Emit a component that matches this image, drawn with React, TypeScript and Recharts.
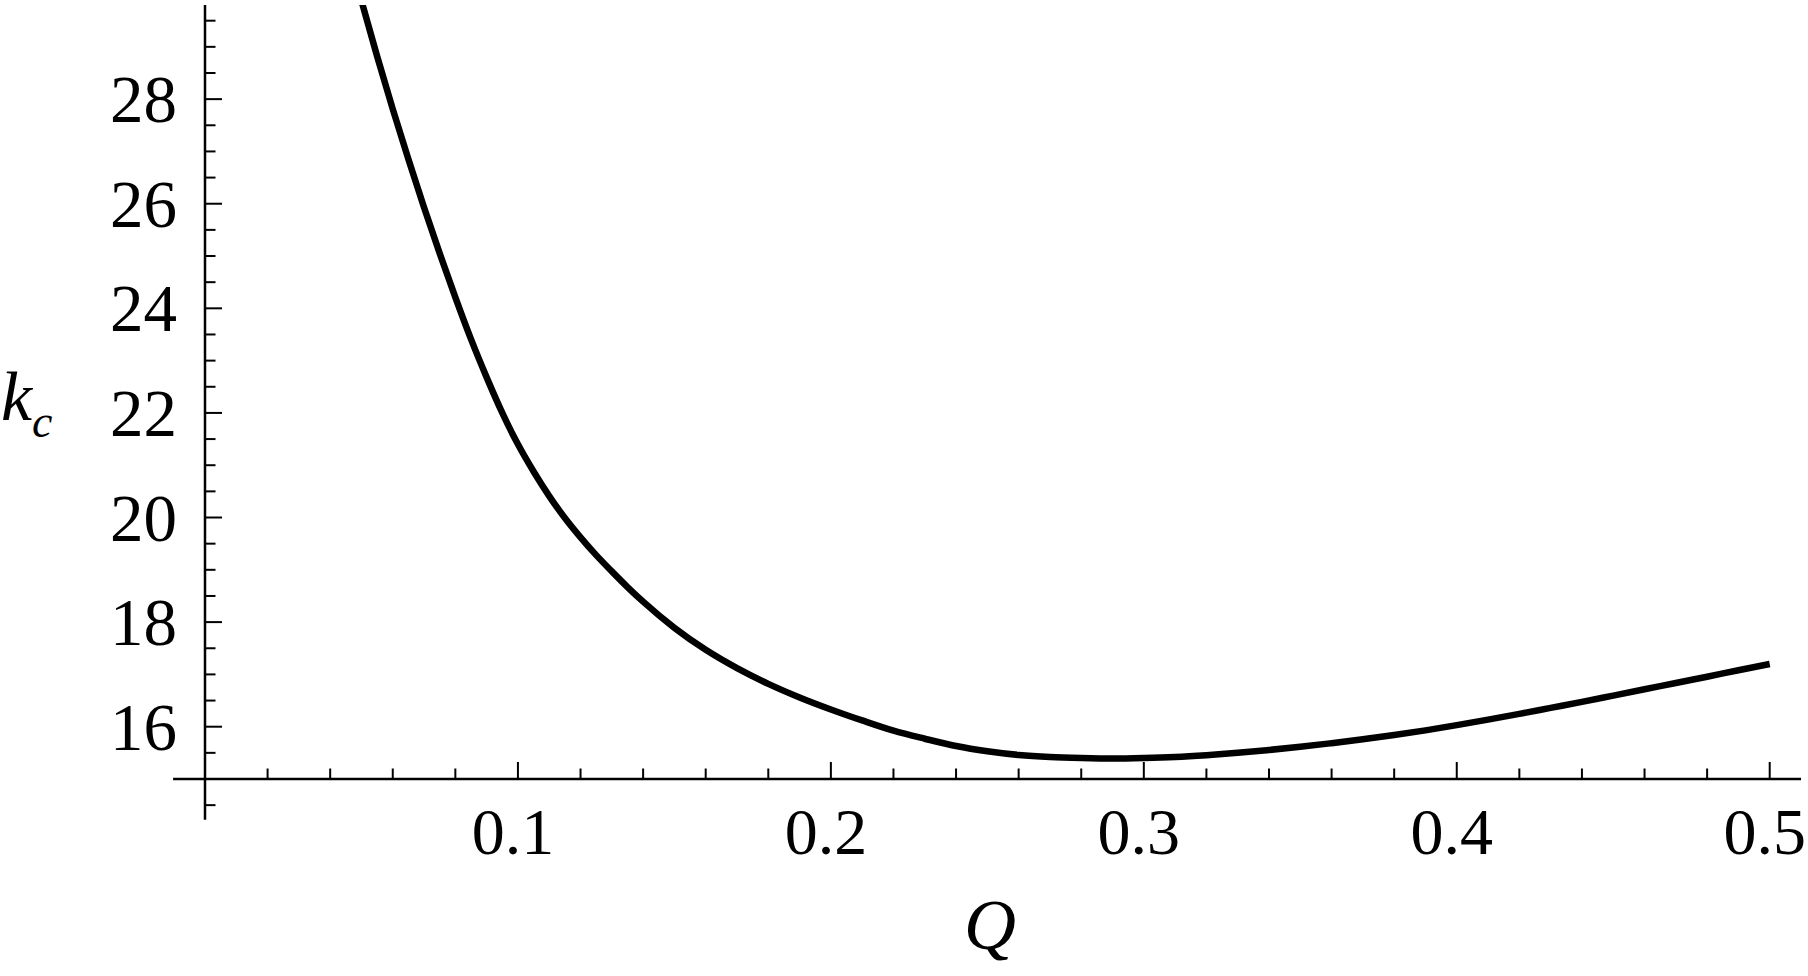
import { Label, Line, LineChart, ReferenceLine, XAxis, YAxis } from 'recharts'

// critical wavenumber k_c against Q
const qValues = [
  0.05, 0.055, 0.06, 0.065, 0.07, 0.075, 0.08, 0.085, 0.09, 0.095, 0.1, 0.105, 0.11, 0.115, 0.12, 0.125, 0.13, 0.135,
  0.14, 0.15, 0.16, 0.17, 0.18, 0.19, 0.2, 0.21, 0.22, 0.23, 0.24, 0.25, 0.26, 0.27, 0.28, 0.29, 0.3, 0.31, 0.32,
  0.33, 0.34, 0.35, 0.36, 0.37, 0.38, 0.39, 0.4, 0.41, 0.42, 0.43, 0.44, 0.45, 0.46, 0.47, 0.48, 0.49, 0.5
]
const kcValues = [
  29.88, 28.82, 27.81, 26.85, 25.93, 25.05, 24.21, 23.41, 22.68, 22.0, 21.4, 20.88, 20.41, 19.99, 19.62, 19.28, 18.97, 18.67,
  18.39, 17.89, 17.47, 17.12, 16.82, 16.56, 16.33, 16.12, 15.925, 15.77, 15.63, 15.53, 15.46, 15.42, 15.4, 15.39, 15.4, 15.42, 15.455,
  15.5, 15.555, 15.615, 15.685, 15.76, 15.84, 15.93, 16.03, 16.135, 16.245, 16.36, 16.475, 16.595, 16.715, 16.835, 16.955, 17.08, 17.2
]

const xTicks = [
  0.02, 0.04, 0.06, 0.08, 0.1, 0.12, 0.14, 0.16, 0.18, 0.2, 0.22, 0.24, 0.26, 0.28, 0.3,
  0.32, 0.34, 0.36, 0.38, 0.4, 0.42, 0.44, 0.46, 0.48, 0.5
]
const xTickLabels = ['0.1', '0.2', '0.3', '0.4', '0.5']
const yTicks = [
  14.5, 15.5, 16, 16.5, 17, 17.5, 18, 18.5, 19, 19.5, 20, 20.5, 21, 21.5, 22, 22.5,
  23, 23.5, 24, 24.5, 25, 25.5, 26, 26.5, 27, 27.5, 28, 28.5, 29, 29.5
]
const yTickLabels = ['16', '18', '20', '22', '24', '26', '28']

const data = qValues.map((q, i) => ({ q, kc: kcValues[i] }))

const font = '"Liberation Serif", "Times New Roman", serif'

function XTick({ x, y, payload }: any) {
  const major = xTickLabels.includes(String(payload.value))
  return (
    <g>
      <line x1={x} x2={x} y1={y} y2={y - (major ? 17 : 10.5)} stroke="#000" strokeWidth={2} />
      {major && (
        <text x={x - 5} y={y + 75} textAnchor="middle" fontSize={66} fontFamily={font} fill="#000">
          {String(payload.value)}
        </text>
      )}
    </g>
  )
}

function YTick({ x, y, payload }: any) {
  const major = yTickLabels.includes(String(payload.value))
  return (
    <g>
      <line x1={x} x2={x + (major ? 17 : 10.5)} y1={y} y2={y} stroke="#000" strokeWidth={2} />
      {major && (
        <text x={x - 28} y={y + 23} textAnchor="end" fontSize={67} fontFamily={font} fill="#000">
          {String(payload.value)}
        </text>
      )}
    </g>
  )
}

export default function App() {
  return (
    <div style={{ position: 'absolute', left: 0, top: 0, background: '#fff' }}>
      <LineChart width={1808} height={976} data={data} margin={{ top: 5, right: 7, bottom: 0, left: 0 }}>
        <XAxis
          dataKey="q"
          type="number"
          domain={[0, 0.51]}
          allowDataOverflow
          ticks={xTicks}
          interval={0}
          tickSize={0}
          tickMargin={0}
          axisLine={false}
          tickLine={false}
          tick={<XTick />}
          height={197}
        >
          <Label
            content={({ viewBox }: any) => (
              <text x={viewBox.x + 785} y={viewBox.y + 170} textAnchor="middle" fontSize={72} fontStyle="italic" fontFamily={font} fill="#000">
                Q
              </text>
            )}
          />
        </XAxis>
        <YAxis
          type="number"
          domain={[15, 29.8]}
          allowDataOverflow
          ticks={yTicks}
          interval={0}
          tickSize={0}
          tickMargin={0}
          axisLine={false}
          tickLine={false}
          tick={<YTick />}
          width={205}
        >
          <Label
            content={({ viewBox }: any) => (
              <text x={viewBox.x + 1} y={viewBox.y + 415} fontSize={70} fontStyle="italic" fontFamily={font} fill="#000">
                k<tspan fontSize={46} dy={17}>c</tspan>
              </text>
            )}
          />
        </YAxis>
        <ReferenceLine segment={[{ x: -0.0102, y: 15 }, { x: 0.51, y: 15 }]} stroke="#000" strokeWidth={2.5} ifOverflow="visible" />
        <ReferenceLine segment={[{ x: 0, y: 14.22 }, { x: 0, y: 29.8 }]} stroke="#000" strokeWidth={2.5} ifOverflow="visible" />
        <Line
          type="monotone"
          dataKey="kc"
          stroke="#000"
          strokeWidth={6.5}
          dot={false}
          activeDot={false}
          isAnimationActive={false}
        />
      </LineChart>
    </div>
  )
}
